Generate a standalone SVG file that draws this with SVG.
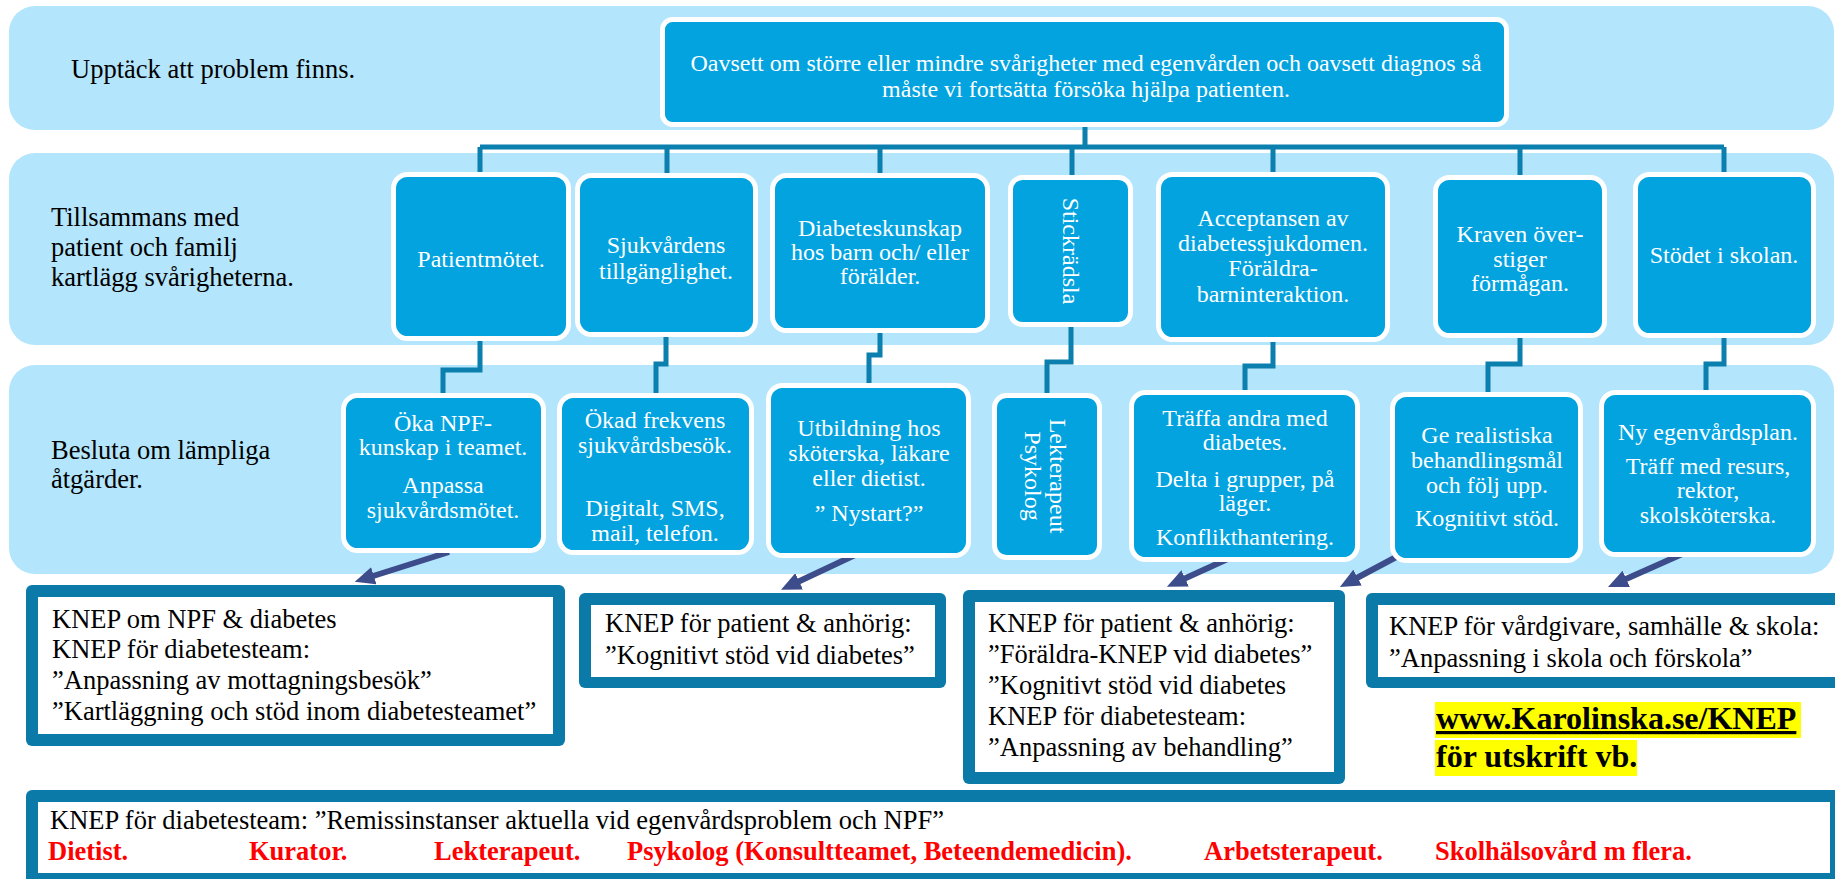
<svg xmlns="http://www.w3.org/2000/svg" width="1835" height="879" viewBox="0 0 1835 879">
<defs>
<style>
.band{fill:#b3e5fc}
.node{fill:#02a3df;stroke:#fff;stroke-width:5}
.nt{font-family:"Liberation Serif","Times New Roman",serif;font-size:24px;fill:#fff;text-anchor:middle}
.lbl{font-family:"Liberation Serif","Times New Roman",serif;font-size:26.5px;fill:#000}
.bo{fill:#0b7aa8}
.bi{fill:#fff}
.red{font-family:"Liberation Serif","Times New Roman",serif;font-size:26.5px;font-weight:bold;fill:#ff0000}
.conn{fill:none;stroke:#0b7fae;stroke-width:5}
.arr{fill:none;stroke:#3d4d8c;stroke-width:6;marker-end:url(#ah)}
.hl{fill:#ffff00}
.web{font-family:"Liberation Serif","Times New Roman",serif;font-size:32px;font-weight:bold;fill:#000}
</style>
<marker id="ah" markerUnits="userSpaceOnUse" markerWidth="20" markerHeight="18" refX="4" refY="9" orient="auto" viewBox="0 0 20 18">
<path d="M0,0 L20,9 L0,18 z" fill="#3d4d8c"/>
</marker>
</defs>

<g id="bands">
<rect class="band" x="9" y="6" width="1825" height="124" rx="26"/>
<rect class="band" x="9" y="153" width="1825" height="192" rx="26"/>
<rect class="band" x="9" y="365" width="1825" height="209" rx="26"/>
<text class="lbl" x="71" y="78">Upptäck att problem finns.</text>
<text class="lbl" x="51" y="226">Tillsammans med</text>
<text class="lbl" x="51" y="256">patient och familj</text>
<text class="lbl" x="51" y="286">kartlägg svårigheterna.</text>
<text class="lbl" x="51" y="459">Besluta om lämpliga</text>
<text class="lbl" x="51" y="488">åtgärder.</text>
</g>

<g id="connectors">
<path class="conn" d="M1085,124 V147 M480,147 H1724"/>
<path class="conn" d="M480,147 V174 M667,147 V175 M880,147 V175 M1072,147 V177 M1273,147 V174 M1520,147 V177 M1724,147 V174"/>
<path class="conn" d="M480,338 V370 H443 V395"/>
<path class="conn" d="M666,335 V364 H656 V395"/>
<path class="conn" d="M880,331 V355 H869 V385"/>
<path class="conn" d="M1071,325 V362 H1047 V395"/>
<path class="conn" d="M1273,340 V366 H1245 V392"/>
<path class="conn" d="M1520,336 V364 H1488 V394"/>
<path class="conn" d="M1724,336 V364 H1706 V392"/>
<line class="arr" x1="449" y1="552" x2="370" y2="577"/>
<line class="arr" x1="872" y1="547" x2="795.5" y2="583"/>
<line class="arr" x1="1243" y1="552" x2="1181.5" y2="580"/>
<line class="arr" x1="1415" y1="547" x2="1354" y2="579.5"/>
<line class="arr" x1="1698" y1="547" x2="1622.6" y2="580.5"/>
</g>

<g id="top">
<rect class="node" x="662.5" y="19.5" width="844" height="105" rx="10"/>
<text class="nt" x="1086" y="71">Oavsett om större eller mindre svårigheter med egenvården och oavsett diagnos så</text>
<text class="nt" x="1086" y="97">måste vi fortsätta försöka hjälpa patienten.</text>
</g>

<g id="n1">
<rect class="node" x="393.5" y="174.5" width="175" height="164" rx="14"/>
<text class="nt" x="481" y="267">Patientmötet.</text>
</g>
<g id="n2">
<rect class="node" x="577.5" y="175.5" width="178" height="159" rx="14"/>
<text class="nt" x="666" y="253">Sjukvårdens</text>
<text class="nt" x="666" y="279">tillgänglighet.</text>
</g>
<g id="n3">
<rect class="node" x="772.5" y="175.5" width="215" height="155" rx="14"/>
<text class="nt" x="880" y="236">Diabeteskunskap</text>
<text class="nt" x="880" y="260">hos barn och/ eller</text>
<text class="nt" x="880" y="284">förälder.</text>
</g>
<g id="n4">
<rect class="node" x="1010.5" y="177.5" width="120" height="147" rx="12"/>
<text class="nt" transform="translate(1071,251) rotate(90)" x="0" y="8">Stickrädsla</text>
</g>
<g id="n5">
<rect class="node" x="1158.5" y="174.5" width="229" height="165" rx="14"/>
<text class="nt" x="1273" y="226">Acceptansen av</text>
<text class="nt" x="1273" y="251">diabetessjukdomen.</text>
<text class="nt" x="1273" y="276">Föräldra-</text>
<text class="nt" x="1273" y="302">barninteraktion.</text>
</g>
<g id="n6">
<rect class="node" x="1435.5" y="177.5" width="169" height="158" rx="14"/>
<text class="nt" x="1520" y="242">Kraven över-</text>
<text class="nt" x="1520" y="267">stiger</text>
<text class="nt" x="1520" y="291">förmågan.</text>
</g>
<g id="n7">
<rect class="node" x="1635.5" y="174.5" width="178" height="161" rx="14"/>
<text class="nt" x="1724" y="263">Stödet i skolan.</text>
</g>

<g id="m1">
<rect class="node" x="343.5" y="395.5" width="200" height="155" rx="14"/>
<text class="nt" x="443" y="431">Öka NPF-</text>
<text class="nt" x="443" y="455">kunskap i teamet.</text>
<text class="nt" x="443" y="493">Anpassa</text>
<text class="nt" x="443" y="518">sjukvårdsmötet.</text>
</g>
<g id="m2">
<rect class="node" x="559.5" y="395.5" width="192" height="157" rx="14"/>
<text class="nt" x="655" y="428">Ökad frekvens</text>
<text class="nt" x="655" y="453">sjukvårdsbesök.</text>
<text class="nt" x="655" y="516">Digitalt, SMS,</text>
<text class="nt" x="655" y="541">mail, telefon.</text>
</g>
<g id="m3">
<rect class="node" x="768.5" y="385.5" width="200" height="170" rx="14"/>
<text class="nt" x="869" y="436">Utbildning hos</text>
<text class="nt" x="869" y="461">sköterska, läkare</text>
<text class="nt" x="869" y="486">eller dietist.</text>
<text class="nt" x="869" y="521">” Nystart?”</text>
</g>
<g id="m4">
<rect class="node" x="994.5" y="395.5" width="105" height="162" rx="12"/>
<g transform="translate(1046,476) rotate(90)">
<text class="nt" x="0" y="-4">Lekterapeut</text>
<text class="nt" x="0" y="21">Psykolog</text>
</g>
</g>
<g id="m5">
<rect class="node" x="1131.5" y="392.5" width="226" height="167" rx="14"/>
<text class="nt" x="1245" y="426">Träffa andra med</text>
<text class="nt" x="1245" y="450">diabetes.</text>
<text class="nt" x="1245" y="487">Delta i grupper, på</text>
<text class="nt" x="1245" y="511">läger.</text>
<text class="nt" x="1245" y="545">Konflikthantering.</text>
</g>
<g id="m6">
<rect class="node" x="1392.5" y="394.5" width="188" height="166" rx="14"/>
<text class="nt" x="1487" y="443">Ge realistiska</text>
<text class="nt" x="1487" y="468">behandlingsmål</text>
<text class="nt" x="1487" y="493">och följ upp.</text>
<text class="nt" x="1487" y="526">Kognitivt stöd.</text>
</g>
<g id="m7">
<rect class="node" x="1601.5" y="392.5" width="212" height="162" rx="14"/>
<text class="nt" x="1708" y="440">Ny egenvårdsplan.</text>
<text class="nt" x="1708" y="474">Träff med resurs,</text>
<text class="nt" x="1708" y="498">rektor,</text>
<text class="nt" x="1708" y="523">skolsköterska.</text>
</g>

<g id="k1">
<rect class="bo" x="26" y="585" width="539" height="161" rx="6"/>
<rect class="bi" x="38" y="597" width="515" height="137"/>
<text class="lbl" x="52" y="628">KNEP om NPF &amp; diabetes</text>
<text class="lbl" x="52" y="658">KNEP för diabetesteam:</text>
<text class="lbl" x="52" y="689">”Anpassning av mottagningsbesök”</text>
<text class="lbl" x="52" y="720">”Kartläggning och stöd inom diabetesteamet”</text>
</g>
<g id="k2">
<rect class="bo" x="579" y="593" width="367" height="95" rx="6"/>
<rect class="bi" x="591" y="605" width="344" height="72"/>
<text class="lbl" x="605" y="632">KNEP för patient &amp; anhörig:</text>
<text class="lbl" x="605" y="664">”Kognitivt stöd vid diabetes”</text>
</g>
<g id="k3">
<rect class="bo" x="963" y="590" width="382" height="194" rx="6"/>
<rect class="bi" x="975" y="602" width="359" height="170"/>
<text class="lbl" x="988" y="632">KNEP för patient &amp; anhörig:</text>
<text class="lbl" x="988" y="663">”Föräldra-KNEP vid diabetes”</text>
<text class="lbl" x="988" y="694">”Kognitivt stöd vid diabetes</text>
<text class="lbl" x="988" y="725">KNEP för diabetesteam:</text>
<text class="lbl" x="988" y="756">”Anpassning av behandling”</text>
</g>
<g id="k4">
<rect class="bo" x="1366" y="593" width="490" height="95" rx="6"/>
<rect class="bi" x="1378" y="605" width="470" height="72"/>
<text class="lbl" x="1389" y="635">KNEP för vårdgivare, samhälle &amp; skola:</text>
<text class="lbl" x="1389" y="667">”Anpassning i skola och förskola”</text>
</g>

<g id="web">
<rect class="hl" x="1435" y="702" width="366" height="36"/>
<rect class="hl" x="1435" y="740" width="202" height="36"/>
<text class="web" x="1436" y="729" text-decoration="underline">www.Karolinska.se/KNEP</text>
<text class="web" x="1436" y="767">för utskrift vb.</text>
</g>

<g id="k5">
<rect class="bo" x="26" y="790" width="1825" height="100" rx="6"/>
<rect class="bi" x="38" y="802" width="1792" height="71"/>
<text class="lbl" x="50" y="829">KNEP för diabetesteam: ”Remissinstanser aktuella vid egenvårdsproblem och NPF”</text>
<text class="red" x="48" y="860">Dietist.</text>
<text class="red" x="249" y="860">Kurator.</text>
<text class="red" x="434" y="860">Lekterapeut.</text>
<text class="red" x="627" y="860">Psykolog (Konsultteamet, Beteendemedicin).</text>
<text class="red" x="1204" y="860">Arbetsterapeut.</text>
<text class="red" x="1435" y="860">Skolhälsovård m flera.</text>
</g>
</svg>
